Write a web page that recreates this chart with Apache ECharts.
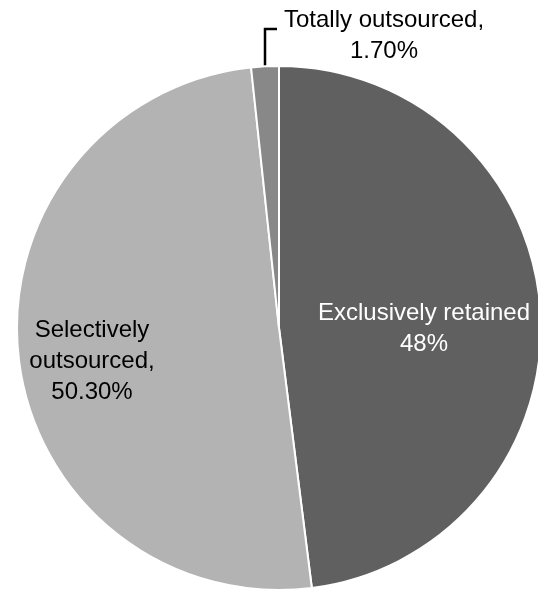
<!DOCTYPE html>
<html>
<head>
<meta charset="utf-8">
<script src="https://cdn.jsdelivr.net/npm/echarts@6/dist/echarts.min.js"></script>
<style>
html,body{margin:0;padding:0;background:#fff;}
#chart{width:538px;height:594px;}
</style>
</head>
<body>
<div id="chart"></div>
<script>
const categories = ['Exclusively retained', 'Selectively outsourced', 'Totally outsourced'];
const values = [48, 50.3, 1.7];
const labelTexts = ['Exclusively retained\n48%', 'Selectively\noutsourced,\n50.30%', 'Totally outsourced,\n1.70%'];
const colors = ['#606060', '#b3b3b3', '#888888'];

const labelPos = [
  { x: 424, y: 329 },
  { x: 92, y: 361 },
  { x: 384, y: 36 }
];

const chart = echarts.init(document.getElementById('chart'));
chart.setOption({
  animation: false,
  backgroundColor: '#ffffff',
  series: [{
    type: 'pie',
    center: [279, 328],
    radius: [0, 262],
    startAngle: 90,
    clockwise: true,
    avoidLabelOverlap: false,
    itemStyle: { borderColor: '#ffffff', borderWidth: 2 },
    label: {
      show: true,
      fontFamily: '"Liberation Sans", Arial, sans-serif',
      fontSize: 24,
      lineHeight: 31,
      align: 'center',
      formatter: function (p) { return labelTexts[p.dataIndex]; }
    },
    labelLine: { show: false },
    labelLayout: function (p) {
      const pos = labelPos[p.dataIndex];
      const r = { x: pos.x, y: pos.y, align: 'center', verticalAlign: 'middle' };
      if (p.dataIndex === 2) {
        r.labelLinePoints = [[265, 66], [265, 29], [277, 29]];
      }
      return r;
    },
    data: categories.map(function (c, i) {
      const d = {
        name: c,
        value: values[i],
        itemStyle: { color: colors[i] },
        label: { position: i === 2 ? 'outside' : 'inside', color: i === 0 ? '#ffffff' : '#000000' }
      };
      if (i === 2) {
        d.labelLine = { show: true, length: 10, length2: 10, lineStyle: { color: '#000000', width: 2.5 } };
      }
      return d;
    })
  }]
});
</script>
</body>
</html>
